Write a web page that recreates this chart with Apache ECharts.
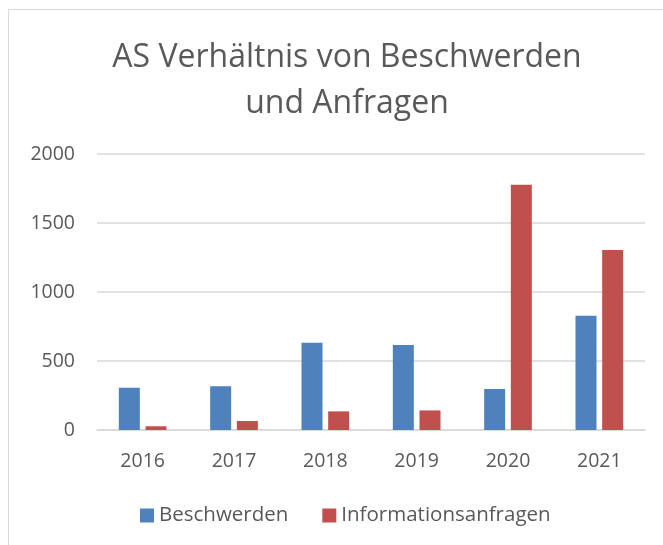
<!DOCTYPE html>
<html><head><meta charset="utf-8">
<script src="https://cdn.jsdelivr.net/npm/echarts@6/dist/echarts.min.js"></script>
<style>html,body{margin:0;padding:0;background:#fff}#c{width:663px;height:545px}</style>
</head><body><div id="c"></div>
<script>
var categories = ['2016','2017','2018','2019','2020','2021'];
var beschwerden = [307, 317, 633, 616, 297, 828];
var informationsanfragen = [27, 65, 135, 142, 1778, 1304];
var yTicks = [0, 500, 1000, 1500, 2000];

var chart = echarts.init(document.getElementById('c'));
var font = '"Open Sans", "Noto Sans", sans-serif';
chart.setOption({
  animation: false,
  backgroundColor: '#fff',
  graphic: [{type:'rect', shape:{x:8.5,y:9.5,width:700,height:560}, style:{fill:'none', stroke:'#d9d9d9', lineWidth:1}, silent:true}],
  title: {
    text: 'AS Verhältnis von Beschwerden\nund Anfragen',
    left: 342, top: 30, textAlign: 'center',
    textStyle: {fontFamily: font, fontSize: 32, fontWeight: 'normal', color: '#595959', lineHeight: 46}
  },
  legend: {
    bottom: 14, left: 135, itemWidth: 14, itemHeight: 14, itemGap: 34,
    icon: 'rect',
    textStyle: {fontFamily: font, fontSize: 20.5, color: '#595959'},
    data: ['Beschwerden', 'Informationsanfragen']
  },
  grid: {left: 97, right: 18, top: 154, bottom: 115, containLabel: false},
  xAxis: {
    type: 'category', data: categories,
    axisLine: {lineStyle: {color: '#d9d9d9', width: 1.5}},
    axisTick: {show: false},
    axisLabel: {fontFamily: font, fontSize: 19.5, color: '#595959', margin: 21}
  },
  yAxis: {
    type: 'value', min: yTicks[0], max: yTicks[yTicks.length-1], interval: 500,
    axisLine: {show: false}, axisTick: {show: false},
    axisLabel: {fontFamily: font, fontSize: 19.5, color: '#595959', margin: 22,
      formatter: function (v) { return String(v); }},
    splitLine: {lineStyle: {color: '#d9d9d9', width: 1.5}}
  },
  series: [
    {name: 'Beschwerden', type: 'bar', data: beschwerden, barWidth: 21, barGap: '27%',
     itemStyle: {color: '#4f81bd'}},
    {name: 'Informationsanfragen', type: 'bar', data: informationsanfragen, barWidth: 21,
     itemStyle: {color: '#c0504d'}}
  ]
});
</script></body></html>
